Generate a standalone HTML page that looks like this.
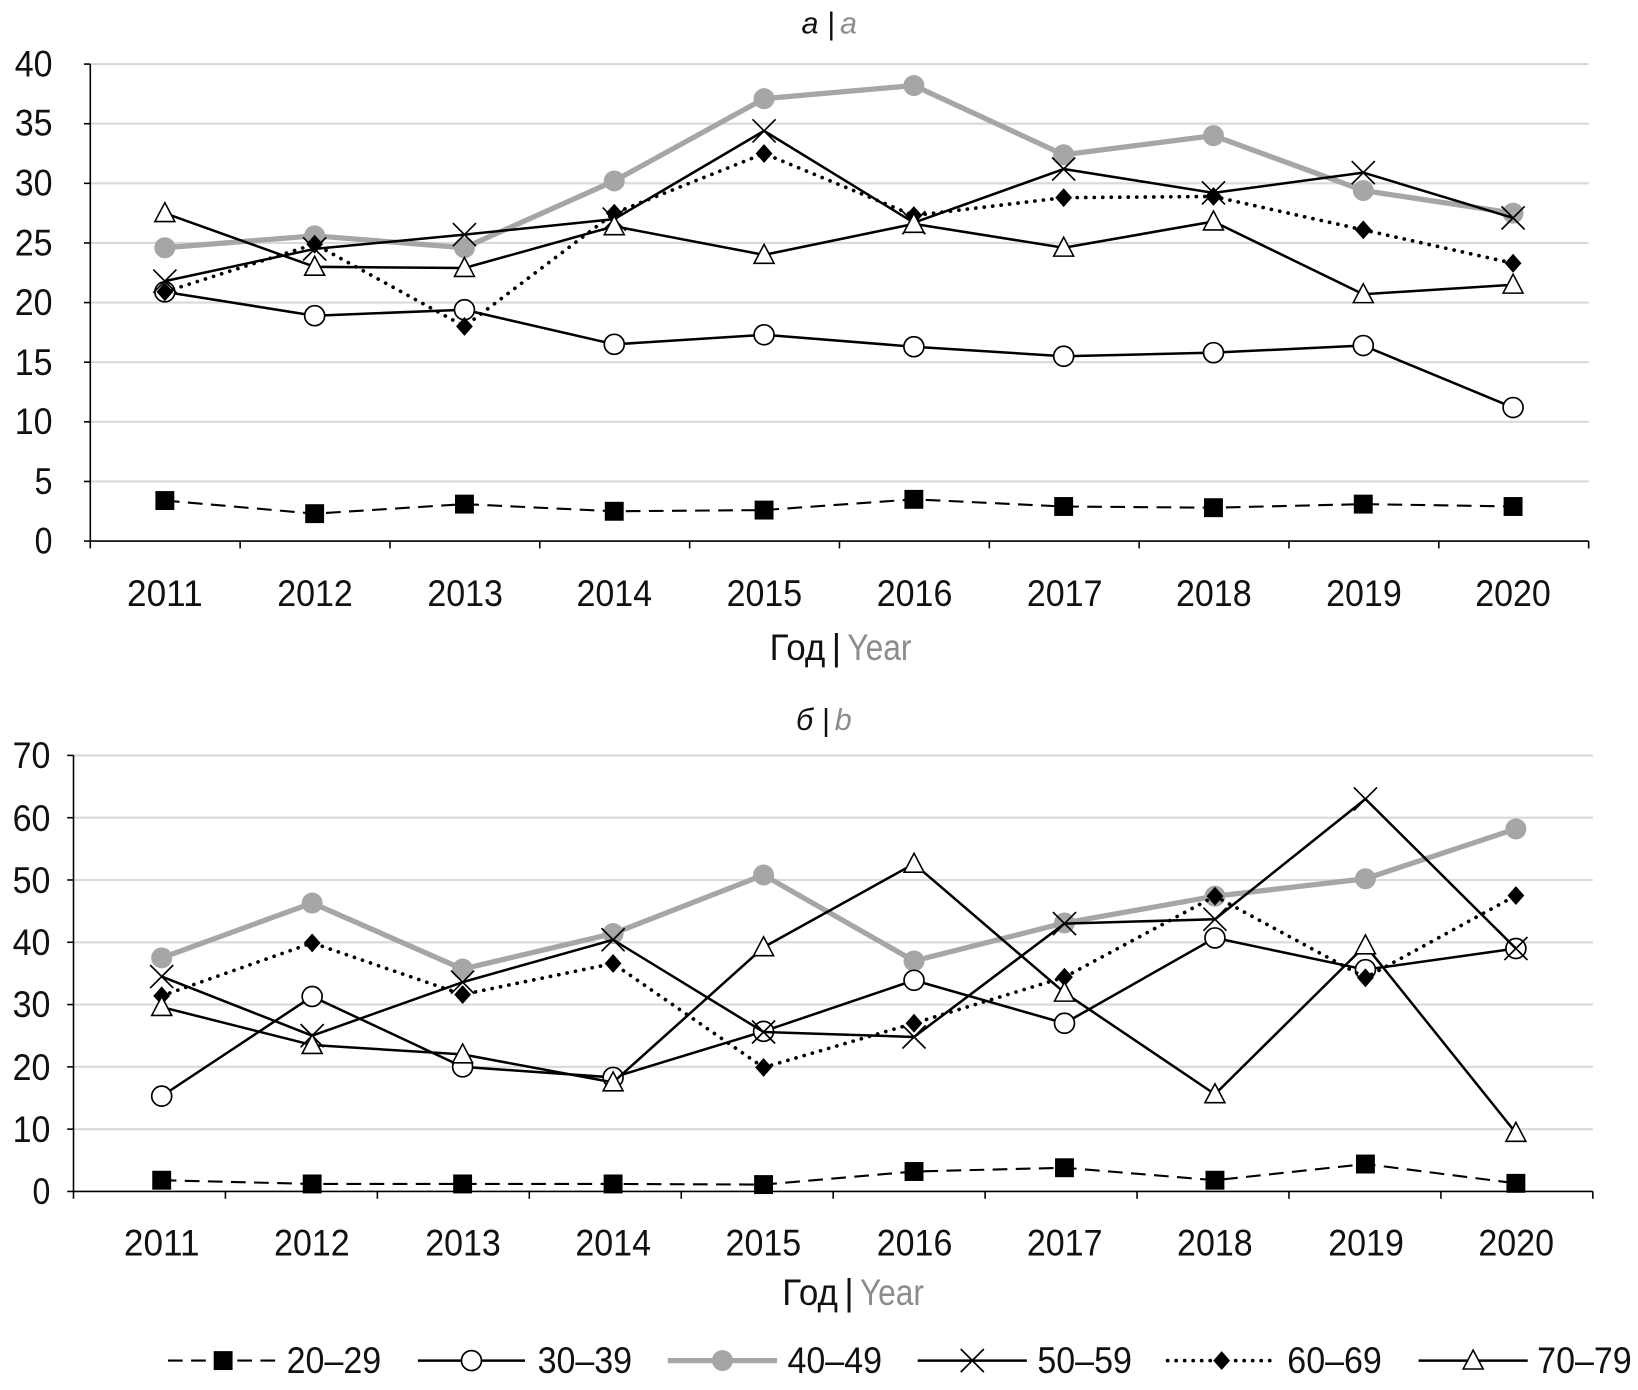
<!DOCTYPE html>
<html><head><meta charset="utf-8"><style>
html,body{margin:0;padding:0;background:#fff}
svg{display:block}
text{font-family:"Liberation Sans Narrow","Liberation Sans",sans-serif;font-size:35px;fill:#111}
.t{font-style:italic;font-family:"Liberation Sans",sans-serif;font-size:29px}
.g{fill:#8c8c8c}
</style></head><body>
<svg id="s" width="1638" height="1390" viewBox="0 0 1560 1323" preserveAspectRatio="none" xmlns="http://www.w3.org/2000/svg">
<text class="t" x="795" y="32" text-anchor="end">а |</text><text class="t g" x="800" y="32">a</text>
<text class="t" x="790" y="695" text-anchor="end">б |</text><text class="t g" x="795" y="695">b</text>
<g text-anchor="end">
<text x="50" y="527" textLength="17" lengthAdjust="spacingAndGlyphs">0</text><text x="50" y="470" textLength="17" lengthAdjust="spacingAndGlyphs">5</text><text x="50" y="413" textLength="36" lengthAdjust="spacingAndGlyphs">10</text><text x="50" y="357" textLength="36" lengthAdjust="spacingAndGlyphs">15</text>
<text x="50" y="300" textLength="36" lengthAdjust="spacingAndGlyphs">20</text><text x="50" y="243" textLength="36" lengthAdjust="spacingAndGlyphs">25</text><text x="50" y="186" textLength="36" lengthAdjust="spacingAndGlyphs">30</text><text x="50" y="129" textLength="36" lengthAdjust="spacingAndGlyphs">35</text><text x="50" y="73" textLength="36" lengthAdjust="spacingAndGlyphs">40</text>
<text x="48" y="1146" textLength="17" lengthAdjust="spacingAndGlyphs">0</text><text x="48" y="1087" textLength="36" lengthAdjust="spacingAndGlyphs">10</text><text x="48" y="1028" textLength="36" lengthAdjust="spacingAndGlyphs">20</text><text x="48" y="968" textLength="36" lengthAdjust="spacingAndGlyphs">30</text>
<text x="48" y="909" textLength="36" lengthAdjust="spacingAndGlyphs">40</text><text x="48" y="850" textLength="36" lengthAdjust="spacingAndGlyphs">50</text><text x="48" y="791" textLength="36" lengthAdjust="spacingAndGlyphs">60</text><text x="48" y="731" textLength="36" lengthAdjust="spacingAndGlyphs">70</text>
</g>
<text x="733" y="628" textLength="53" lengthAdjust="spacingAndGlyphs">Год</text><text x="792" y="628">|</text><text class="g" x="807" y="628" textLength="61" lengthAdjust="spacingAndGlyphs">Year</text>
<text x="745" y="1242" textLength="53" lengthAdjust="spacingAndGlyphs">Год</text><text x="804" y="1242">|</text><text class="g" x="819" y="1242" textLength="61" lengthAdjust="spacingAndGlyphs">Year</text>
<g id="plot"></g>
<g id="leg"></g>
<text x="273" y="1307" textLength="90" lengthAdjust="spacingAndGlyphs">20–29</text><text x="512" y="1307" textLength="90" lengthAdjust="spacingAndGlyphs">30–39</text><text x="750" y="1307" textLength="90" lengthAdjust="spacingAndGlyphs">40–49</text>
<text x="988" y="1307" textLength="90" lengthAdjust="spacingAndGlyphs">50–59</text><text x="1226" y="1307" textLength="90" lengthAdjust="spacingAndGlyphs">60–69</text><text x="1464" y="1307" textLength="90" lengthAdjust="spacingAndGlyphs">70–79</text>
<g text-anchor="middle">
<text x="157" y="577" textLength="72" lengthAdjust="spacingAndGlyphs">2011</text><text x="300" y="577" textLength="72" lengthAdjust="spacingAndGlyphs">2012</text><text x="443" y="577" textLength="72" lengthAdjust="spacingAndGlyphs">2013</text><text x="585" y="577" textLength="72" lengthAdjust="spacingAndGlyphs">2014</text><text x="728" y="577" textLength="72" lengthAdjust="spacingAndGlyphs">2015</text>
<text x="871" y="577" textLength="72" lengthAdjust="spacingAndGlyphs">2016</text><text x="1014" y="577" textLength="72" lengthAdjust="spacingAndGlyphs">2017</text><text x="1156" y="577" textLength="72" lengthAdjust="spacingAndGlyphs">2018</text><text x="1299" y="577" textLength="72" lengthAdjust="spacingAndGlyphs">2019</text><text x="1441" y="577" textLength="72" lengthAdjust="spacingAndGlyphs">2020</text>
<text x="154" y="1195" textLength="72" lengthAdjust="spacingAndGlyphs">2011</text><text x="297" y="1195" textLength="72" lengthAdjust="spacingAndGlyphs">2012</text><text x="441" y="1195" textLength="72" lengthAdjust="spacingAndGlyphs">2013</text><text x="584" y="1195" textLength="72" lengthAdjust="spacingAndGlyphs">2014</text><text x="727" y="1195" textLength="72" lengthAdjust="spacingAndGlyphs">2015</text>
<text x="871" y="1195" textLength="72" lengthAdjust="spacingAndGlyphs">2016</text><text x="1014" y="1195" textLength="72" lengthAdjust="spacingAndGlyphs">2017</text><text x="1157" y="1195" textLength="72" lengthAdjust="spacingAndGlyphs">2018</text><text x="1301" y="1195" textLength="72" lengthAdjust="spacingAndGlyphs">2019</text><text x="1444" y="1195" textLength="72" lengthAdjust="spacingAndGlyphs">2020</text>
</g>
</svg>
<script>
var NS="http://www.w3.org/2000/svg",P=document.getElementById("plot"),L=document.getElementById("leg");
function el(p,t,a){var e=document.createElementNS(NS,t);for(var k in a)e.setAttribute(k,a[k]);p.appendChild(e);return e;}
var A={l:86,r:1513,b:515,t:61,max:40,x0:157,dx:142.67},B={l:70,r:1517,b:1134,t:719,max:70,x0:154,dx:143.3};
var da=[[3.4,2.3,3.1,2.5,2.6,3.5,2.9,2.8,3.1,2.9],[20.9,18.9,19.4,16.5,17.3,16.3,15.5,15.8,16.4,11.2],[24.6,25.6,24.6,30.2,37.1,38.2,32.4,34.0,29.4,27.5],[21.8,24.5,25.7,27.0,34.4,26.7,31.2,29.2,30.9,27.1],[20.9,24.9,18.0,27.5,32.5,27.3,28.8,28.9,26.1,23.3],[27.5,23.0,22.9,26.4,24.0,26.6,24.6,26.8,20.7,21.5]];
var db=[[1.8,1.2,1.2,1.2,1.1,3.2,3.8,1.8,4.4,1.3],[15.3,31.3,20.0,18.3,25.7,33.9,27.0,40.7,35.6,39.0],[37.5,46.3,35.7,41.4,50.8,37.0,43.1,47.4,50.2,58.2],[34.5,25.0,33.6,40.4,25.6,24.8,43.0,43.7,63.0,39.0],[31.4,39.9,31.6,36.6,19.9,27.0,34.4,47.4,34.3,47.5],[29.6,23.5,22.0,17.5,39.2,52.6,31.9,15.6,39.5,9.4]];
var ST=[{s:"#000",w:2,d:"14,8"},{s:"#000",w:2.4},{s:"#a6a6a6",w:5},{s:"#000",w:2.4},{s:"#000",w:3.5,d:"0.1,8",lc:"round"},{s:"#000",w:2.4}];
function mark(p,i,x,y){
 if(i==0)el(p,"rect",{x:x-9,y:y-9,width:18,height:18,fill:"#000"});
 else if(i==1)el(p,"circle",{cx:x,cy:y,r:9.5,fill:"#fff",stroke:"#000","stroke-width":1.6});
 else if(i==2)el(p,"circle",{cx:x,cy:y,r:10,fill:"#a6a6a6"});
 else if(i==3)el(p,"path",{d:"M"+(x-11)+" "+(y-11)+"L"+(x+11)+" "+(y+11)+"M"+(x-11)+" "+(y+11)+"L"+(x+11)+" "+(y-11),stroke:"#000","stroke-width":1.6});
 else if(i==4)el(p,"path",{d:"M"+x+" "+(y-9)+"L"+(x+8)+" "+y+"L"+x+" "+(y+9)+"L"+(x-8)+" "+y+"Z",fill:"#000"});
 else el(p,"path",{d:"M"+x+" "+(y-10)+"L"+(x+9.5)+" "+(y+8)+"L"+(x-9.5)+" "+(y+8)+"Z",fill:"#fff",stroke:"#000","stroke-width":1.5});
}
function chart(C,D,step){
 for(var v=step;v<=C.max;v+=step){var y=C.b-(C.b-C.t)*v/C.max;el(P,"line",{x1:C.l,x2:C.r,y1:y,y2:y,stroke:"#d9d9d9","stroke-width":2});}
 el(P,"line",{x1:C.l,x2:C.l,y1:C.t,y2:C.b,stroke:"#000","stroke-width":1.5});
 el(P,"line",{x1:C.l,x2:C.r,y1:C.b,y2:C.b,stroke:"#000","stroke-width":1.5});
 for(v=0;v<=C.max;v+=step){var y=C.b-(C.b-C.t)*v/C.max;el(P,"line",{x1:C.l-6,x2:C.l,y1:y,y2:y,stroke:"#000","stroke-width":1.5});}
 for(var k=0;k<=10;k++){var x=C.l+(C.r-C.l)*k/10;el(P,"line",{x1:x,x2:x,y1:C.b,y2:C.b+7,stroke:"#000","stroke-width":1.5});}
 [2,0,1,3,4,5].forEach(function(i){var pts=D[i].map(function(v,j){return (C.x0+C.dx*j)+","+(C.b-(C.b-C.t)*v/C.max)});
  var a={points:pts.join(" "),fill:"none",stroke:ST[i].s,"stroke-width":ST[i].w,"stroke-linejoin":"round"};
  if(ST[i].d)a["stroke-dasharray"]=ST[i].d;if(ST[i].lc)a["stroke-linecap"]=ST[i].lc;el(P,"polyline",a);
  D[i].forEach(function(v,j){mark(P,i,C.x0+C.dx*j,C.b-(C.b-C.t)*v/C.max)});});
}
chart(A,da,5);chart(B,db,10);
var lx=[[160,265],[398,500],[636,740],[874,978],[1112,1215],[1351,1455]];
lx.forEach(function(p,i){var a={x1:p[0],x2:p[1],y1:1295,y2:1295,stroke:ST[i].s,"stroke-width":ST[i].w};
 if(ST[i].d)a["stroke-dasharray"]=ST[i].d;if(ST[i].lc)a["stroke-linecap"]=ST[i].lc;el(L,"line",a);mark(L,i,(p[0]+p[1])/2,1295);});
</script>
</body></html>
